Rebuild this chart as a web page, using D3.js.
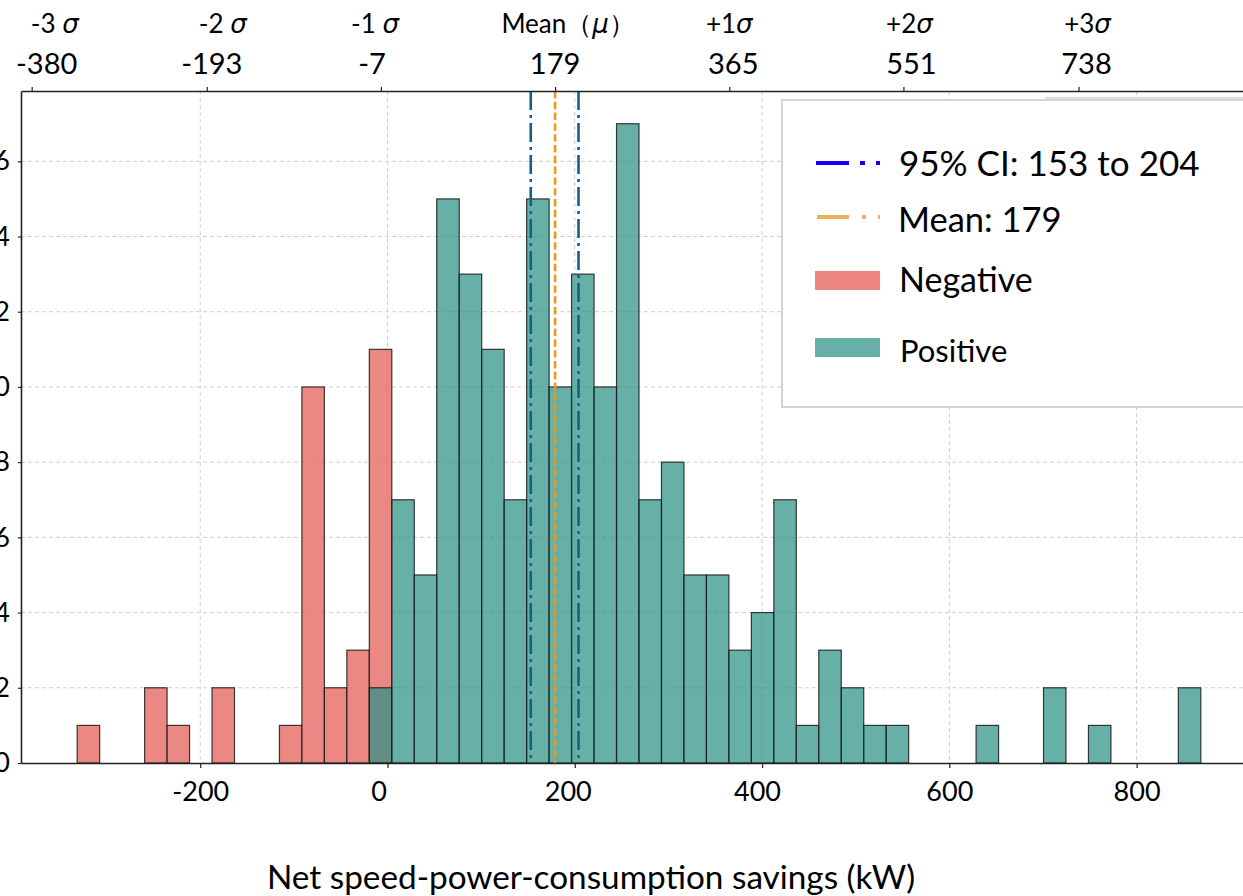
<!DOCTYPE html>
<html><head><meta charset="utf-8">
<script src="https://cdn.jsdelivr.net/npm/d3@7"></script>
<style>
body{margin:0;background:#fff;overflow:hidden;}
text{font-family:Lato,"Noto Sans",sans-serif;fill:#000;}
</style>
</head><body>
<svg id="c" width="1243" height="896"></svg>
<script>
// ---- data ----
const binLeft = [-331.4,-307.4,-283.4,-259.4,-235.4,-211.4,-187.4,-163.4,-139.4,-115.4,
  -91.4,-67.4,-43.4,-19.4,4.6,28.6,52.6,76.6,100.6,124.6,
  148.6,172.6,196.6,220.6,244.6,268.6,292.6,316.6,340.6,364.6,
  388.6,412.6,436.6,460.6,484.6,508.6,532.6,556.6,580.6,604.6,
  628.6,652.6,676.6,700.6,724.6,748.6,772.6,796.6,820.6,844.6];
const binWidth = 24;
const negCounts = [1,0,0,2,1,0,2,0,0,1,10,2,3,11,0,0,0,0,0,0,0,0,0,0,0,0,0,0,0,0,0,0,0,0,0,0,0,0,0,0,0,0,0,0,0,0,0,0,0,0];
const posCounts = [0,0,0,0,0,0,0,0,0,0,0,0,0,2,7,5,15,13,11,7,15,10,13,10,17,7,8,5,5,3,4,7,1,3,2,1,1,0,0,0,1,0,0,2,0,1,0,0,0,2];
const xTicks = [-200,0,200,400,600,800];
const yTicks = [0,2,4,6,8,10,12,14,16];
const sigmaValues = [-380,-193,-7,179,365,551,738];
const sigmaPrefix = ["-3 ","-2 ","-1 ","Mean\uFF08","+1","+2","+3"];
const sigmaSymbol = ["σ","σ","σ","μ","σ","σ","σ"];
const sigmaSuffix = ["","","","\uFF09","","",""];
const meanValue = 179, ciLow = 153, ciHigh = 204;
const xLabel = "Net speed-power-consumption savings (kW)";
const legendLabels = ["95% CI: 153 to 204","Mean: 179","Negative","Positive"];
const xDomain = [-391.4, 928.6];
const yDomain = [0, 17.87];

// ---- layout ----
const L = 21, R = 1257, T = 91, B = 763;
const svg = d3.select("#c");
const x = d3.scaleLinear().domain(xDomain).range([L, R]);
const y = d3.scaleLinear().domain(yDomain).range([B, T]);
const negColor = "#e8736e", posColor = "rgb(41,144,132)";
const ciColor = "#13608a", meanColor = "#e89a20";
// label nudges (pixels) seen in the reference
const valueDx = [15,5,-9,0,4,8,8];
const sigmaDx = [23,16,-6,13,0,6,9];
const xTickDx = {"-200":0,"0":-9,"200":-7,"400":-5,"600":0,"800":0};

svg.append("defs").append("clipPath").attr("id","clip")
  .append("rect").attr("x",L).attr("y",T).attr("width",R-L).attr("height",B-T);
const plot = svg.append("g").attr("clip-path","url(#clip)");

// grid
plot.selectAll("line.gx").data(xTicks).join("line").attr("class","gx")
  .attr("x1",d=>x(d)).attr("x2",d=>x(d)).attr("y1",T).attr("y2",B)
  .attr("stroke","#cfcfcf").attr("stroke-width",1).attr("stroke-dasharray","4,3");
plot.selectAll("line.gy").data(yTicks.filter(d=>d>0)).join("line").attr("class","gy")
  .attr("x1",L).attr("x2",R).attr("y1",d=>y(d)).attr("y2",d=>y(d))
  .attr("stroke","#cfcfcf").attr("stroke-width",1).attr("stroke-dasharray","4,3");

// bars
function drawBars(counts, color, op, cls){
  const data = binLeft.map((b,i)=>({x0:b, x1:b+binWidth, c:counts[i]})).filter(d=>d.c>0);
  plot.selectAll("rect."+cls).data(data).join("rect").attr("class",cls)
    .attr("x",d=>x(d.x0)).attr("width",d=>x(d.x1)-x(d.x0))
    .attr("y",d=>y(d.c)).attr("height",d=>y(0)-y(d.c))
    .attr("fill",color).attr("fill-opacity",op)
    .attr("stroke","#1a1a1a").attr("stroke-opacity",0.85).attr("stroke-width",1.2);
}
drawBars(negCounts, negColor, 0.85, "neg");
drawBars(posCounts, posColor, 0.71, "pos");

// CI and mean lines
plot.selectAll("line.ci").data([ciLow, ciHigh]).join("line").attr("class","ci")
  .attr("x1",d=>x(d)).attr("x2",d=>x(d)).attr("y1",T).attr("y2",B)
  .attr("stroke",ciColor).attr("stroke-width",2.6).attr("stroke-dasharray","19,5,3,5");
plot.append("line").attr("x1",x(meanValue)).attr("x2",x(meanValue)).attr("y1",T).attr("y2",B)
  .attr("stroke",meanColor).attr("stroke-width",2.6).attr("stroke-dasharray","7.4,3.4");

// axes
const fs = 27;
const gx = svg.append("g").attr("transform",`translate(0,${B})`)
  .call(d3.axisBottom(x).tickValues(xTicks).tickSizeInner(5).tickSizeOuter(0).tickPadding(14).tickFormat(d=>String(d)));
gx.selectAll("text").style("font-size",fs+"px").attr("dx",d=>xTickDx[String(d)]||0);
const gy = svg.append("g").attr("transform",`translate(${L},0)`)
  .call(d3.axisLeft(y).tickValues(yTicks).tickSizeInner(3).tickSizeOuter(0).tickPadding(8).tickFormat(d=>String(d)));
gy.selectAll("text").style("font-size",fs+"px");
const gt = svg.append("g").attr("transform",`translate(0,${T})`)
  .call(d3.axisTop(x).tickValues(sigmaValues).tickSizeInner(4).tickSizeOuter(0).tickFormat(""));
[gx,gy,gt].forEach(g=>{
  g.select(".domain").attr("stroke","#222").attr("stroke-width",1.6);
  g.selectAll(".tick line").attr("stroke","#222").attr("stroke-width",1.2);
});
// top two-row labels
const tl = svg.append("g");
tl.selectAll("text.sv").data(sigmaValues).join("text").attr("class","sv")
  .attr("x",(d,i)=>x(d)+valueDx[i]).attr("y",74).attr("text-anchor","middle").style("font-size","29px")
  .text(d=>String(d));
const st = tl.selectAll("text.sl").data(sigmaValues).join("text").attr("class","sl")
  .attr("x",(d,i)=>x(d)+sigmaDx[i]).attr("y",33).attr("text-anchor","middle").style("font-size","26px");
st.append("tspan").text((d,i)=>sigmaPrefix[i]);
st.append("tspan").style("font-family","'DejaVu Sans'").style("font-style","italic").text((d,i)=>sigmaSymbol[i]);
st.append("tspan").text((d,i)=>sigmaSuffix[i]);

// x label
svg.append("text").attr("x",591).attr("y",889).attr("text-anchor","middle")
  .style("font-size","33.3px").text(xLabel);

// legend
const lg = svg.append("g");
lg.append("line").attr("x1",1045).attr("x2",1243).attr("y1",98).attr("y2",98).attr("stroke","#ddd").attr("stroke-width",2);
lg.append("rect").attr("x",782).attr("y",100).attr("width",480).attr("height",307)
  .attr("fill","#fff").attr("stroke","#d4d4d4").attr("stroke-width",2);
lg.append("line").attr("x1",816).attr("x2",880).attr("y1",163).attr("y2",163)
  .attr("stroke","#1400ff").attr("stroke-width",4).attr("stroke-dasharray","33,11,5,11");
lg.append("line").attr("x1",817).attr("x2",880).attr("y1",217).attr("y2",217)
  .attr("stroke","#e8b058").attr("stroke-width",4).attr("stroke-dasharray","32,13,4,12");
lg.append("rect").attr("x",815).attr("y",271).attr("width",65).attr("height",19).attr("fill","#ec8480");
lg.append("rect").attr("x",815).attr("y",338).attr("width",65).attr("height",19).attr("fill","#67b0a8");
const lt = [[899,176,35],[898,232,34.5],[899,292,34],[900,362,31]];
lg.selectAll("text.lt").data(legendLabels).join("text").attr("class","lt")
  .attr("x",(d,i)=>lt[i][0]).attr("y",(d,i)=>lt[i][1]).style("font-size",(d,i)=>lt[i][2]+"px").text(d=>d);
</script>
</body></html>
